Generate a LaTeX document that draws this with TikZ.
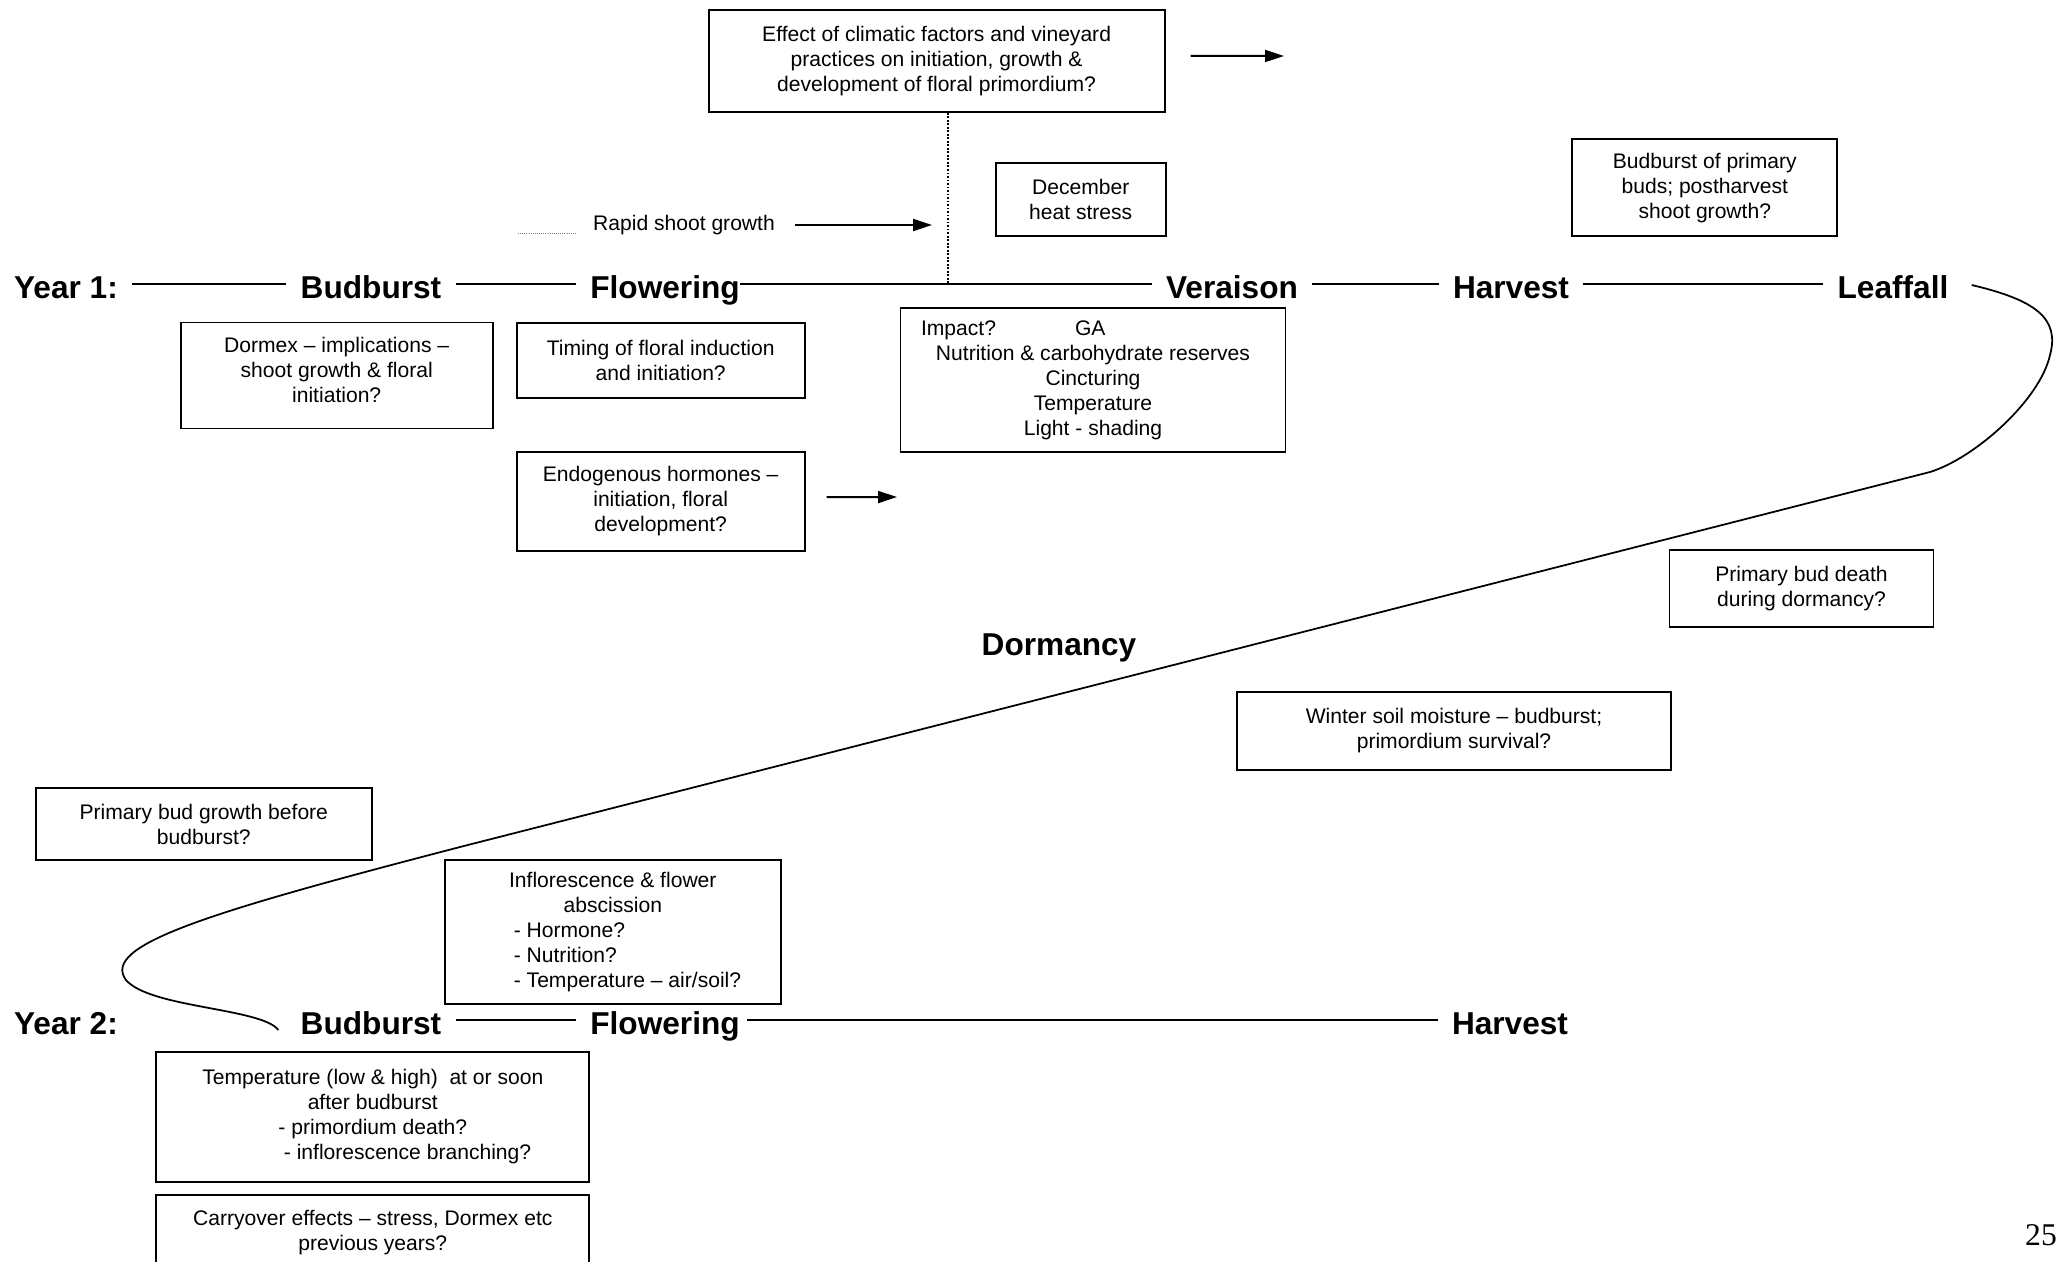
\documentclass[tikz,border=0pt]{standalone}
\usepackage{fontspec}
\setmainfont{Liberation Sans}
\newfontfamily\pagenumfont{Liberation Serif}
\usetikzlibrary{arrows.meta, calc}
\definecolor{ink}{HTML}{000000}
\definecolor{dotgray}{HTML}{7A7A7A}
\newcommand{\qfont}{\fontsize{12}{14.2}\selectfont}
\newcommand{\stagefont}{\fontsize{18}{21}\selectfont\bfseries}

\begin{document}
\begin{tikzpicture}[x=0.02cm, y=-0.02cm,
  >={Triangle[length=0.38cm, width=0.24cm]},
  qbox/.style 2 args={draw=ink, line width=1.1pt, align=center, font=\qfont,
    minimum width=#1*0.02cm, minimum height=#2*0.02cm, inner sep=2pt},
  stage/.style={font=\stagefont, text height=17pt, text depth=0pt,
    inner xsep=0.28cm, inner ysep=0pt},
  tline/.style={ink, line width=1.1pt},
  arr/.style={ink, line width=1.1pt, ->},
  vdots/.style={ink, line width=0.7pt, dash pattern=on 1pt off 1pt},
  loopline/.style={ink, line width=1pt}]

% Background
\clip (0,0) rectangle (2064,1261);
\fill[white] (0,0) rectangle (2064,1261);

% Year 1 timeline
\node[stage] (yr1) at (66,284) {Year 1:};
\node[stage] (bud1) at (371,284) {Budburst};
\node[stage] (flw1) at (665,284) {Flowering};
\node[stage] (ver1) at (1232,284) {Veraison};
\node[stage] (har1) at (1511,284) {Harvest};
\node[stage] (lea1) at (1893,284) {Leaffall};
\draw[tline] (yr1) -- (bud1);
\draw[tline] (bud1) -- (flw1);
\draw[tline] ([xshift=-0.28cm]flw1.east) -- (ver1);
\draw[tline] (ver1) -- (har1);
\draw[tline] (har1) -- (lea1);

% Year 2 timeline
\node[stage] (yr2) at (66,1020) {Year 2:};
\node[stage] (bud2) at (371,1020) {Budburst};
\node[stage] (flw2) at (665,1020) {Flowering};
\node[stage] (har2) at (1510,1020) {Harvest};
\draw[tline] (bud2) -- (flw2);
\draw[tline] ([xshift=-0.14cm]flw2.east) -- (har2);

% Dormancy label
\node[stage] (dorm) at (1059,641) {Dormancy};

% Question boxes, Year 1
\node[qbox={456}{102}] (effect) at (936.6,60.8)
  {Effect of climatic factors and vineyard\\practices on initiation, growth \&\\development of floral primordium?};
\node[qbox={170}{73}] (heat) at (1080.7,199.7) {December\\heat stress};
\node[qbox={265}{97}] (postharv) at (1704.8,187.7)
  {Budburst of primary\\buds; postharvest\\shoot growth?};
\node[qbox={312}{106}] (dormex) at (336.7,375.5)
  {Dormex – implications –\\shoot growth \& floral\\initiation?\\[-8pt]};
\node[qbox={288}{75}] (timing) at (660.7,360.2)
  {Timing of floral induction\\and initiation?};
\node[qbox={288}{99}] (hormones) at (660.7,501.2)
  {Endogenous hormones –\\initiation, floral\\development?};
\node[qbox={385}{144}] (impact) at (1093,380.3)
  {\makebox[6.88cm][l]{\makebox[3.08cm][l]{Impact?}GA}\\Nutrition \& carbohydrate reserves\\Cincturing\\Temperature\\Light - shading};

% Question boxes, dormancy
\node[qbox={264}{77}] (buddeath) at (1801.5,588.3)
  {Primary bud death\\during dormancy?};
\node[qbox={434}{78}] (soil) at (1454,730.8)
  {Winter soil moisture – budburst;\\primordium survival?};
\node[qbox={336}{72}] (preburst) at (203.8,824.2)
  {Primary bud growth before\\budburst?};

% Question boxes, Year 2
\node[qbox={336}{144}] (abscis) at (612.8,932.2)
  {Inflorescence \& flower\\abscission\\\makebox[3.96cm][l]{- Hormone?}\\\makebox[3.96cm][l]{- Nutrition?}\\\makebox[3.96cm][l]{- Temperature – air/soil?}};
\node[qbox={433}{130}] (temp) at (372.8,1116.7)
  {Temperature (low \& high)~ at or soon\\after budburst\\- primordium death?\\\hspace*{1.39cm}- inflorescence branching?};
\node[qbox={433}{75}] (carry) at (372.8,1232.5)
  {Carryover effects – stress, Dormex etc\\previous years?};

% Dotted drop line and legend
\coordinate (dotfoot) at (948,284);
\draw[vdots] (effect.south -| dotfoot) -- (dotfoot);
\node[font=\qfont, inner sep=2pt] (rapid) at (684,225) {Rapid shoot growth};
\draw[dotgray, line width=0.5pt, dash pattern=on 0.6pt off 0.6pt] (518,233) -- (575,233);

% Arrows
\coordinate (rapidtip) at (932,225);
\draw[arr] (rapid.east) ++(16,0) -- (rapidtip);
\coordinate (hormtip) at (897,497);
\draw[arr] (hormones.east) ++(21,-4) -- (hormtip);
\coordinate (efftip) at (1284,56);
\draw[arr] (effect.east) ++(25,-5) -- (efftip);

% Leaffall to budburst through dormancy
\draw[loopline] ($(lea1.east)+(9,1)$)
  .. controls (2035,300) and (2060,318) .. (2050,355)
  .. controls (2040,400) and (1975,458) .. (1930,472)
  -- (460,847)
  .. controls (210,912) and (100,945) .. (126,980)
  .. controls (150,1008) and (262,1008) .. ($(bud2.west)+(-8,10)$);

% Page number
\node[font=\pagenumfont\fontsize{18}{21}\selectfont, inner sep=0pt, anchor=base]
  (pagenum) at (2041,1245) {25};

\end{tikzpicture}
\end{document}
